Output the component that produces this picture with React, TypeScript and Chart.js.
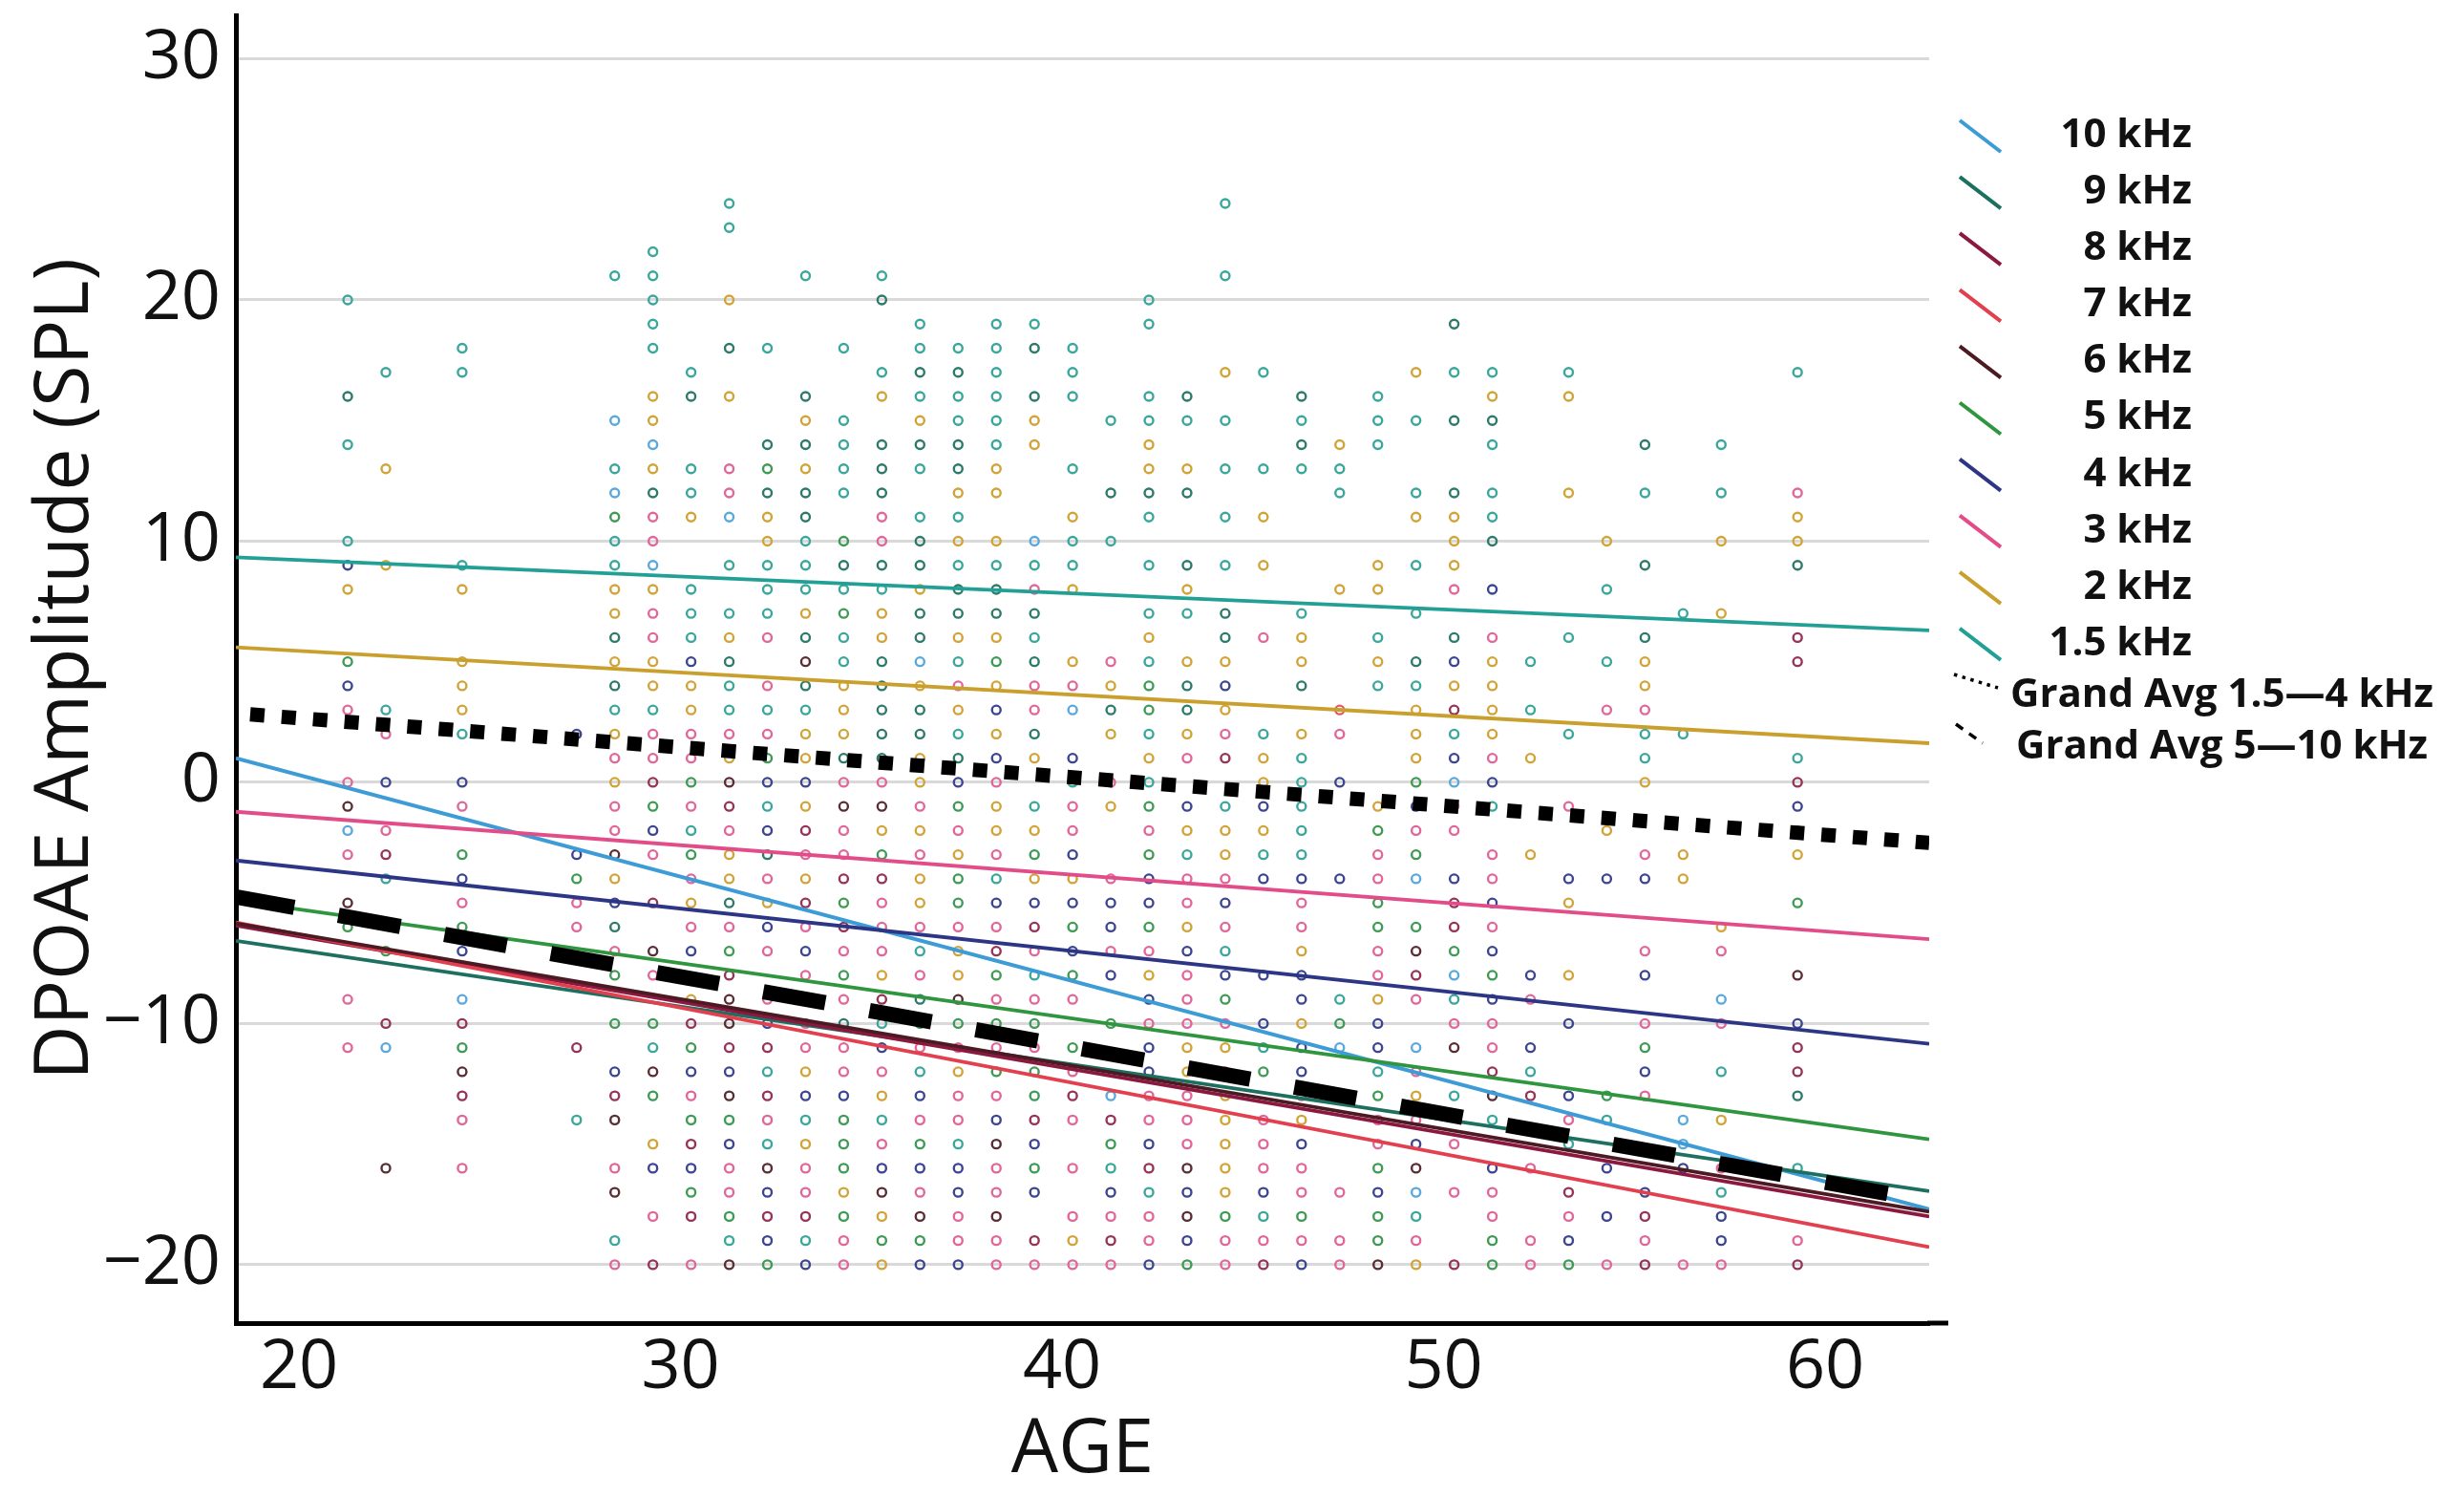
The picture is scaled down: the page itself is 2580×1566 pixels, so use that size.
import React, { useEffect, useRef } from "react";
import { Chart, registerables } from "chart.js";

Chart.register(...registerables);

// ---------- data ----------
const FREQ_LABELS = ["1.5 kHz", "2 kHz", "3 kHz", "4 kHz", "5 kHz", "6 kHz", "7 kHz", "8 kHz", "9 kHz", "10 kHz"];
const FREQ_CODES = "abcdefghij";
const LEGEND_ORDER = [9, 8, 7, 6, 5, 4, 3, 2, 1, 0];

// regression lines: value at AGE 18.07 and at AGE 62.45
const FIT_AGES = [18.07, 62.45];
const FIT_START = [9.33, 5.6, -1.22, -3.24, -4.9, -5.85, -5.81, -5.94, -6.57, 1.0];
const FIT_END = [6.3, 1.62, -6.5, -10.84, -14.8, -17.8, -19.27, -18.0, -16.95, -17.7];

const GRAND_LABELS = ["Grand Avg 1.5\u20144 kHz", "Grand Avg 5\u201410 kHz"];
const GRAND_START = [2.86, -4.75];
const GRAND_END = [-2.51, -17.36];

// scatter: one column per age, values from 24 down to -20 (one char per dB, '.' = none)
const COLUMN_TOP = 24;
const SCATTER_AGES = [21, 22, 24, 27, 28, 29, 30, 31, 32, 33, 34, 35, 36, 37, 38, 39, 40, 41, 42, 43, 44, 45, 46, 47, 48, 49, 50, 51, 52, 53, 54, 55, 56, 57, 59];
const SCATTER_COLUMNS = [
  "....a ...i. a...a db..e dc..c fjc.f e..c. c.... .....",
  "..... ..a.. .b... b.... .ac.d .cha. .e..h j.... f....",
  "..... .aa.. ..... ab..b bba.d c.edc ed.jh efhc. c....",
  "..... ..... ..... ..... ..d.. ..dec c.... h..a. .....",
  "...a. ....j .ajea abbib iabcb ccfbd ice.e .dhf. cf.ac",
  "..aaa aa.bb jbicc jbccb bacch edc.h .fc.e afe.b d.c.h",
  "..... ..ai. .aab. .aaad bbcce caecb cd.bh edceh deh.c",
  "aa..b .i.b. .ccj. a.abi aacbf hcbbi cehff hdfed cceaf",
  "..... .a... ieibb aaac. caced adicb dc.cd hahca fdhde",
  "...a. ...ib ibiia aabif iabbd bhcbh cdc.c cbdab cchad",
  "..... .a..a aaa.e iaeaa bbbic fcche hceci ccdee ebecc",
  "...ai ..ab. iiicc iabbi iiiic fbehc ccbha dcbac dfbeb",
  "..... aaiab ia.ai ibiij biibb cbcbb cacie cadce dcfed",
  "..... .aiaa iibab aiiba cbaid ecbee cbbfe cbcca ddccd",
  "..... aaaaa abb.b aiibe bdbdc bbcad chece cecdf ccfcc",
  "..... ai.ib b...j aciai ccib. abebd hcace ceehd ed.hc",
  "..... .aaa. .a.ba ab..b cj.da ccdbd edec. echc. c.cbc",
  "..... ....a ..i.a ....c bib.c b..cd dcd.e ..jhe adchc",
  "....a a..aa bbia. a.aba eeaba ecedd ecbdc ddccd haccd",
  "..... ...ia .bi.. iba.b iibc. dbacc bdccc bbccc fdfde",
  "a..a. ..b.a .a.a. a.iib dbch. abbcd cadec bcbbb bbecc",
  "..... ..a.. .a.b. b..c. ..abb dbad. ..d.d ae.cc cdach",
  "..... ...ia ia... ..abb i.baa aaadc cbddb ddcbd ccecd",
  "..... ..... baa.. .b... .gc.d ...d. ...ae j.... .c.cc",
  "..... ...aa a.... bb.ab a.... becce eccbd daecc edeef",
  "..... ..b.a ..ab. a.a.i abbbe dcej. efhc. jcbcd fjacb",
  "..... i.a.i ..ibb bc.id bhadj cc.dh hejac f.a.c .c..h",
  "..... ..abi a.aai .d.cb bbbcd a.ccd cdedc chfa. dccee",
  "..... ..... ..... ....a .a.b. ..b.. ..dc. dah.. c..cc",
  "..... ..ab. ..b.. ...a. ..a.. c..db ..b.d ..dca .hcde",
  "..... ..... ....b .a..a .c... .b.d. ..... ..ea. d.d.c",
  "..... ..... i.a.. i..ib bcaab ..cd. .cd.c edc.. .dhch",
  "..... ..... ..... ..a.. ..a.. ..bb. ..... ...jj d...c",
  "..... ..... a.a.b ..b.. ..... ..... bc.jc .a.b. caddc",
  "..... ..a.. ..cbb i..hh ...ah dbb.e ..f.d hhi.. a..ch",
];

const X_MIN = 18.07;
const X_MAX = 62.45;
const Y_MIN = -22.42;
const Y_MAX = 31.8;
const X_TICKS = [20, 30, 40, 50, 60];
const Y_TICKS = [-20, -10, 0, 10, 20, 30];

// ---------- styles ----------
const LINE_COLORS = ["#22a095", "#c9a02e", "#e24c88", "#2c3684", "#2f963f", "#4b1a22", "#e2404f", "#8c1840", "#1d6f5f", "#3d9bd6"];
const POINT_COLORS = ["#3aa69c", "#d1a43a", "#e0679a", "#3c4590", "#3f9a55", "#5a2c34", "#e25a66", "#953358", "#2d7a6a", "#5aa8dc"];
const FONT = '"Open Sans", "DejaVu Sans", sans-serif';

function buildScatter(code: string) {
  const pts: { x: number; y: number }[] = [];
  SCATTER_COLUMNS.forEach((col, ci) => {
    const s = col.replace(/ /g, "");
    for (let k = 0; k < s.length; k++) {
      if (s[k] === code) pts.push({ x: SCATTER_AGES[ci], y: COLUMN_TOP - k });
    }
  });
  return pts;
}

const legendPlugin = {
  id: "sideLegend",
  afterDraw(chart: any) {
    const ctx = chart.ctx as CanvasRenderingContext2D;
    ctx.save();
    ctx.textBaseline = "middle";
    ctx.font = `bold 42px ${FONT}`;
    ctx.lineCap = "butt";
    LEGEND_ORDER.forEach((idx, row) => {
      const y = 142 + row * 59.1;
      ctx.strokeStyle = LINE_COLORS[idx];
      ctx.lineWidth = 4;
      ctx.setLineDash([]);
      ctx.beginPath();
      ctx.moveTo(2052, y - 16);
      ctx.lineTo(2095, y + 17);
      ctx.stroke();
      ctx.fillStyle = "#111";
      ctx.textAlign = "right";
      ctx.fillText(FREQ_LABELS[idx], 2295, y);
    });
    // grand average items
    const gy = [728, 782];
    ctx.strokeStyle = "#000";
    ctx.lineWidth = 3.5;
    ctx.setLineDash([3.5, 5.5]);
    ctx.beginPath();
    ctx.moveTo(2046, gy[0] - 22);
    ctx.lineTo(2092, gy[0] - 8);
    ctx.stroke();
    ctx.setLineDash([9, 8]);
    ctx.beginPath();
    ctx.moveTo(2048, gy[1] - 24);
    ctx.lineTo(2076, gy[1] - 4);
    ctx.stroke();
    ctx.setLineDash([]);
    ctx.fillStyle = "#111";
    ctx.textAlign = "left";
    ctx.fillText(GRAND_LABELS[0], 2105, gy[0]);
    ctx.fillText(GRAND_LABELS[1], 2111, gy[1]);
    // extend x axis line slightly beyond plot area like the reference
    const a = chart.chartArea;
    ctx.strokeStyle = "#000";
    ctx.lineWidth = 5;
    ctx.beginPath();
    ctx.moveTo(a.right - 2, a.bottom);
    ctx.lineTo(a.right + 20, a.bottom);
    ctx.stroke();
    ctx.restore();
  },
};

export default function App() {
  const ref = useRef<HTMLCanvasElement>(null);
  useEffect(() => {
    document.body.style.margin = "0";
    const canvas = ref.current;
    if (!canvas) return;

    const scatterSets = FREQ_CODES.split("").map((code, i) => ({
      type: "scatter" as const,
      label: FREQ_LABELS[i] + " pts",
      data: buildScatter(code),
      pointRadius: 4.5,
      pointBorderWidth: 2.4,
      pointBackgroundColor: "rgba(0,0,0,0)",
      pointBorderColor: POINT_COLORS[i],
      showLine: false,
      order: 10,
    }));

    const fitSets = FREQ_LABELS.map((label, i) => ({
      type: "scatter" as const,
      label,
      data: [
        { x: FIT_AGES[0], y: FIT_START[i] },
        { x: FIT_AGES[1], y: FIT_END[i] },
      ],
      showLine: true,
      borderColor: LINE_COLORS[i],
      borderWidth: 3.8,
      pointRadius: 0,
      order: 5,
    }));

    const grandSets = GRAND_LABELS.map((label, i) => ({
      type: "scatter" as const,
      label,
      data: [
        { x: FIT_AGES[0], y: GRAND_START[i] },
        { x: FIT_AGES[1], y: GRAND_END[i] },
      ],
      showLine: true,
      borderColor: "#000",
      borderWidth: i === 0 ? 15 : 16,
      borderDash: i === 0 ? [15, 18] : [66, 47],
      borderDashOffset: i === 0 ? 18 : 4,
      borderCapStyle: "butt" as const,
      pointRadius: 0,
      order: 1,
    }));

    const chart = new Chart(canvas, {
      type: "scatter",
      data: { datasets: [...scatterSets, ...fitSets, ...grandSets] as any },
      options: {
        animation: false,
        responsive: false,
        devicePixelRatio: 1,
        events: [],
        layout: { padding: { left: 0, top: 16, right: 560, bottom: 0 } },
        plugins: { legend: { display: false }, tooltip: { enabled: false } },
        scales: {
          x: {
            type: "linear",
            min: X_MIN,
            max: X_MAX,
            afterBuildTicks: (axis: any) => {
              axis.ticks = X_TICKS.map((v) => ({ value: v }));
            },
            afterFit: (axis: any) => {
              axis.height = 181;
              axis.paddingLeft = 0;
              axis.paddingRight = 0;
            },
            grid: { display: false, drawTicks: false },
            border: { display: true, color: "#000", width: 5 },
            ticks: {
              font: { family: FONT, size: 72 },
              color: "#111",
              padding: 4,
              labelOffset: -11,
              maxRotation: 0,
              autoSkip: false,
            },
            title: {
              display: true,
              text: "AGE",
              font: { family: FONT, size: 78 },
              color: "#111",
              padding: { top: 0, bottom: 0 },
            },
          },
          y: {
            type: "linear",
            min: Y_MIN,
            max: Y_MAX,
            afterBuildTicks: (axis: any) => {
              axis.ticks = Y_TICKS.map((v) => ({ value: v }));
            },
            afterFit: (axis: any) => {
              axis.width = 247;
              axis.paddingTop = 0;
              axis.paddingBottom = 0;
            },
            grid: { color: "#d9d9d9", lineWidth: 3, drawTicks: false },
            border: { display: true, color: "#000", width: 5 },
            ticks: {
              font: { family: FONT, size: 72 },
              color: "#111",
              padding: 16,
              callback: (v: any) => (Number(v) < 0 ? "\u2212" + Math.abs(Number(v)) : String(v)),
            },
            title: {
              display: true,
              text: "DPOAE Amplitude (SPL)",
              font: { family: FONT, size: 79 },
              color: "#111",
              padding: { top: 22, bottom: 0 },
            },
          },
        },
      },
      plugins: [legendPlugin],
    });
    return () => chart.destroy();
  }, []);

  return (
    <div style={{ width: 2580, height: 1566, background: "#fff" }}>
      <canvas ref={ref} width={2580} height={1566} style={{ display: "block", width: 2580, height: 1566 }} />
    </div>
  );
}
